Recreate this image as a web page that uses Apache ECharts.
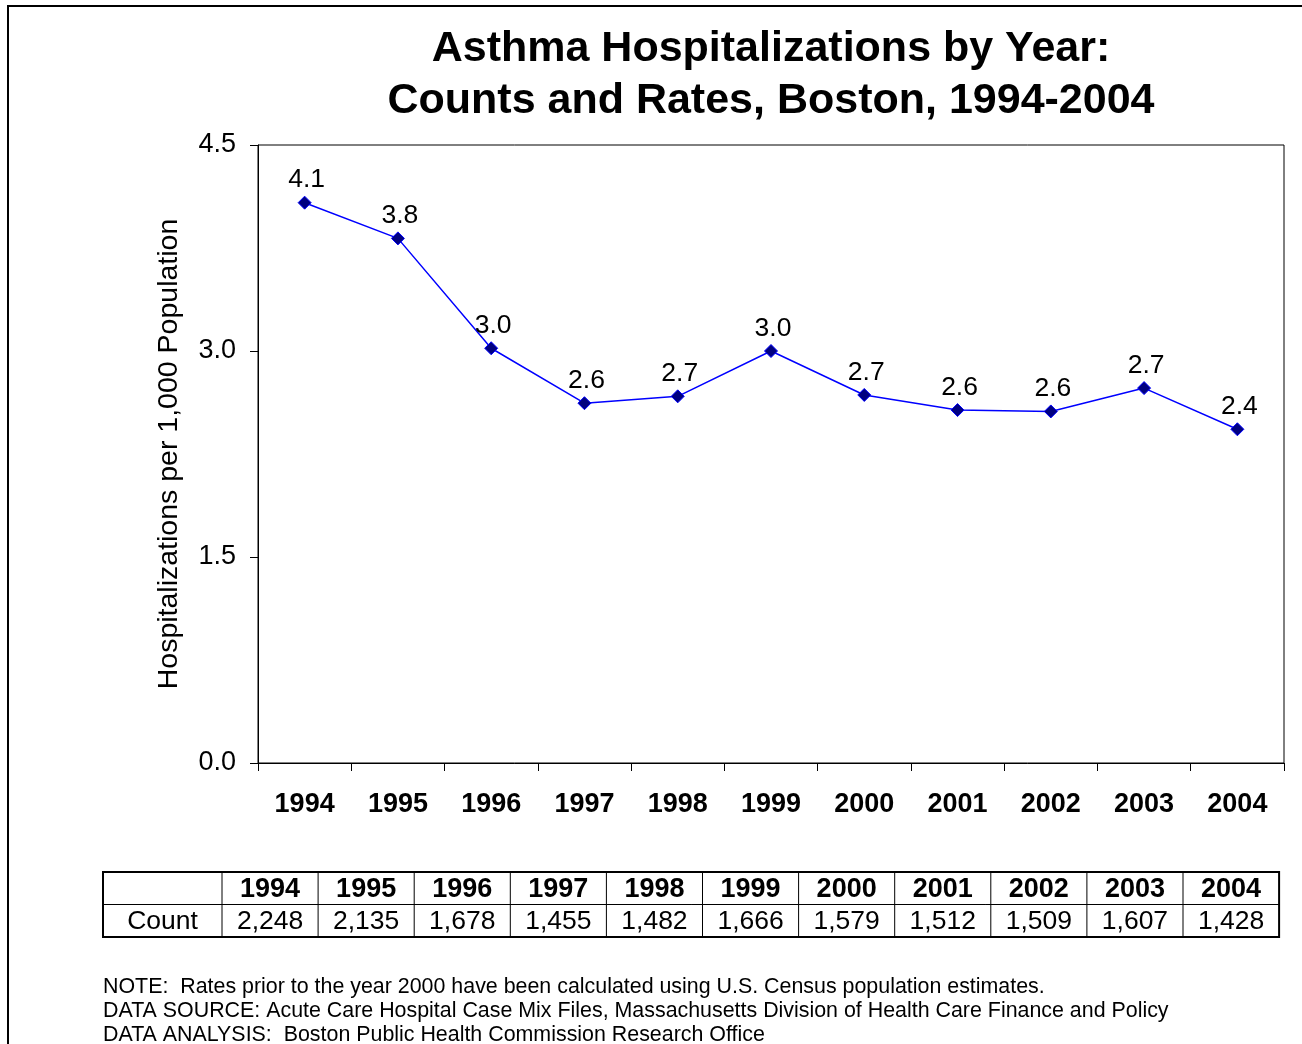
<!DOCTYPE html>
<html>
<head>
<meta charset="utf-8">
<script src="https://cdn.jsdelivr.net/npm/echarts@6/dist/echarts.min.js"></script>
<style>
    html, body { margin: 0; padding: 0; background: #fff; }
    #chart { width: 1302px; height: 1044px; }
</style>
</head>
<body>
<div id="chart"></div>
<script>
const years = ['1994', '1995', '1996', '1997', '1998', '1999', '2000', '2001', '2002', '2003', '2004'];
const rates = [4.08, 3.82, 3.02, 2.62, 2.67, 3.00, 2.68, 2.57, 2.56, 2.73, 2.43];
const counts = ['2,248', '2,135', '1,678', '1,455', '1,482', '1,666', '1,579', '1,512', '1,509', '1,607', '1,428'];
const notes = [
    'NOTE:  Rates prior to the year 2000 have been calculated using U.S. Census population estimates.',
    'DATA SOURCE: Acute Care Hospital Case Mix Files, Massachusetts Division of Health Care Finance and Policy',
    'DATA ANALYSIS:  Boston Public Health Commission Research Office'
];

const font = '"Liberation Sans", Arial, sans-serif';

// count table under the chart
const tableLeft = 103, tableTop = 872, firstCol = 119, colW = 96.1, rowH = 32.5;
const buildTable = () => {
    const els = [];
    const width = firstCol + colW * years.length;
    els.push({
        type: 'rect',
        shape: { x: tableLeft, y: tableTop, width: width, height: rowH * 2 },
        style: { fill: 'none', stroke: '#000', lineWidth: 2 }
    });
    els.push({
        type: 'line',
        shape: { x1: tableLeft, y1: tableTop + rowH, x2: tableLeft + width, y2: tableTop + rowH },
        style: { stroke: '#000', lineWidth: 1 }
    });
    for (let i = 0; i < years.length; i++) {
        const x = tableLeft + firstCol + colW * i;
        els.push({
            type: 'line',
            shape: { x1: x, y1: tableTop, x2: x, y2: tableTop + rowH * 2 },
            style: { stroke: '#000', lineWidth: 1 }
        });
        els.push({
            type: 'text',
            x: x + colW / 2, y: tableTop + rowH / 2 + 1,
            style: { text: years[i], font: 'bold 27px ' + font, fill: '#000', align: 'center', verticalAlign: 'middle' }
        });
        els.push({
            type: 'text',
            x: x + colW / 2, y: tableTop + rowH * 1.5 + 1,
            style: { text: counts[i], font: '26.5px ' + font, fill: '#000', align: 'center', verticalAlign: 'middle' }
        });
    }
    els.push({
        type: 'text',
        x: tableLeft + firstCol / 2, y: tableTop + rowH * 1.5 + 1,
        style: { text: 'Count', font: '26.5px ' + font, fill: '#000', align: 'center', verticalAlign: 'middle' }
    });
    notes.forEach((t, i) => {
        els.push({
            type: 'text',
            x: 103, y: 987 + i * 24,
            style: { text: t, font: '21.4px ' + font, fill: '#000', verticalAlign: 'middle' }
        });
    });
    // outer frame
    els.push({
        type: 'rect',
        shape: { x: 8, y: 6, width: 1400, height: 1200 },
        style: { fill: 'none', stroke: '#000', lineWidth: 2 }
    });
    return els;
};

const myChart = echarts.init(document.getElementById('chart'));
const option = {
    backgroundColor: '#fff',
    animation: false,
    title: {
        text: 'Asthma Hospitalizations by Year:\nCounts and Rates, Boston, 1994-2004',
        left: 766,
        textAlign: 'center',
        top: 18,
        textStyle: {
            fontFamily: font,
            fontSize: 43,
            fontWeight: 'bold',
            color: '#000',
            lineHeight: 52
        }
    },
    grid: {
        left: 258,
        top: 145,
        right: 18,
        bottom: 281,
        show: true,
        borderColor: '#000',
        borderWidth: 1,
        containLabel: false
    },
    xAxis: {
        type: 'category',
        data: years,
        boundaryGap: true,
        axisLine: { lineStyle: { color: '#000', width: 1 } },
        axisTick: { show: true, length: 8, lineStyle: { color: '#000' } },
        axisLabel: {
            margin: 28,
            color: '#000',
            fontFamily: font,
            fontSize: 27,
            fontWeight: 'bold'
        },
        splitLine: { show: false }
    },
    yAxis: {
        type: 'value',
        min: 0,
        max: 4.5,
        interval: 1.5,
        name: 'Hospitalizations per 1,000 Population',
        nameLocation: 'middle',
        nameGap: 74,
        nameTextStyle: { fontFamily: font, fontSize: 28.5, color: '#000' },
        axisLine: { show: true, lineStyle: { color: '#000', width: 1 } },
        axisTick: { show: true, length: 8, lineStyle: { color: '#000' } },
        axisLabel: {
            margin: 22,
            color: '#000',
            fontFamily: font,
            fontSize: 27,
            formatter: v => v.toFixed(1)
        },
        splitLine: { show: false }
    },
    series: [{
        type: 'line',
        data: rates,
        symbol: 'diamond',
        symbolSize: 13,
        lineStyle: { color: '#0000FF', width: 1.5 },
        itemStyle: { color: '#000080', borderColor: '#0000FF', borderWidth: 1 },
        label: {
            show: true,
            position: 'top',
            offset: [2, 3],
            color: '#000',
            fontFamily: font,
            fontSize: 26.5,
            formatter: p => p.value.toFixed(1)
        }
    }],
    graphic: buildTable()
};
myChart.setOption(option);
</script>
</body>
</html>
